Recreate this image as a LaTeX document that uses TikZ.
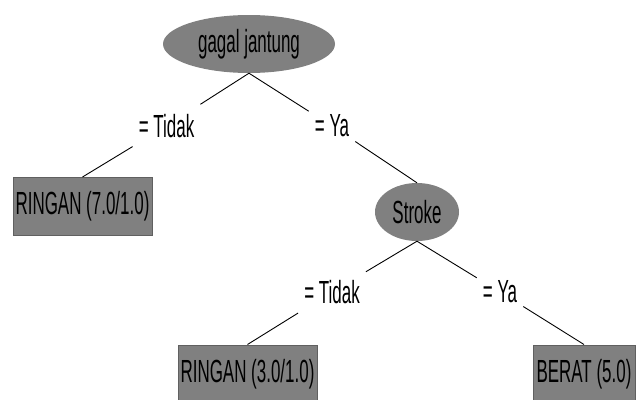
\documentclass[tikz,border=0pt]{standalone}
\usepackage{fontspec}
\newfontfamily\treefont[FakeStretch=0.53]{Liberation Sans}
\usetikzlibrary{shapes.geometric}
\definecolor{nodegray}{RGB}{128,128,128}
\definecolor{rimgray}{RGB}{96,96,96}

\begin{document}
\begin{tikzpicture}[x=1pt,y=-1pt,
    font={\treefont\fontsize{32}{34}\selectfont},
    attr/.style={ellipse,fill=nodegray,inner sep=0pt,minimum height=58pt},
    leaf/.style={draw=rimgray,line width=1pt,fill=nodegray,minimum height=58pt,inner xsep=0pt},
    cond/.style={inner xsep=6pt,inner ysep=0pt,minimum height=46pt},
    edge/.style={line width=0.9pt}]
  \useasboundingbox (0,0) rectangle (642,399);

  % Tests
  \node[attr,minimum width=172pt] (gagal) at (249,44) {gagal jantung};
  \node[attr,minimum width=84pt] (stroke) at (417,212) {Stroke};

  % Leaves
  \node[leaf,minimum width=139pt] (ringanA) at (82.5,206.5) {RINGAN (7.0/1.0)};
  \node[leaf,minimum width=139pt] (ringanB) at (247.5,374) {RINGAN (3.0/1.0)};
  \node[leaf,minimum width=102pt] (berat) at (584,374) {BERAT (5.0)};

  % Branch labels
  \node[cond] (gTidak) at (166.5,126) {= Tidak};
  \node[cond] (gYa) at (332,126) {= Ya};
  \node[cond] (sTidak) at (332,292) {= Tidak};
  \node[cond] (sYa) at (500,292) {= Ya};

  % Branches
  \draw[edge] (gagal.south) -- (gTidak) -- (ringanA.north);
  \draw[edge] (gagal.south) -- (gYa) -- (stroke.north);
  \draw[edge] (stroke.south) -- (sTidak) -- (ringanB.north);
  \draw[edge] (stroke.south) -- (sYa) -- (berat.north);
\end{tikzpicture}
\end{document}
